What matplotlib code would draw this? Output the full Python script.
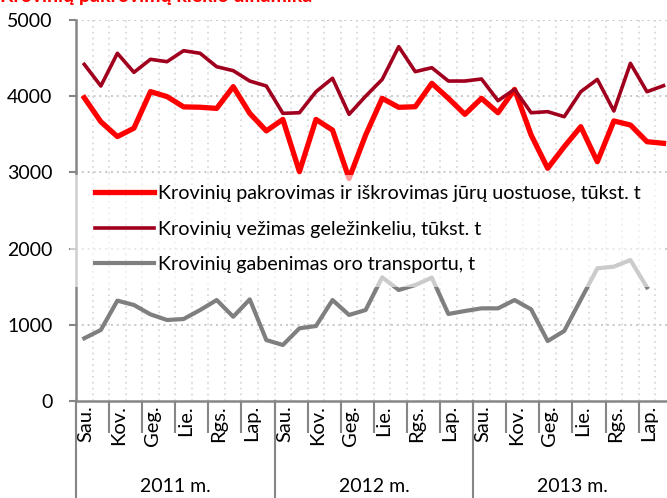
import matplotlib
matplotlib.use("Agg")
import matplotlib.pyplot as plt
import matplotlib.transforms as mtransforms
from matplotlib.patches import Rectangle
import numpy as np

plt.rcParams['font.family'] = ['Lato', 'DejaVu Sans']

months = ["Sau.", "Vas.", "Kov.", "Bal.", "Geg.", "Bir.", "Lie.", "Rgp.", "Rgs.", "Spa.", "Lap.", "Grd."] * 3
years = ["2011 m.", "2012 m.", "2013 m."]

ports = [3980, 3665, 3470, 3580, 4060, 3995, 3860, 3855, 3840, 4125, 3775, 3545,
         3695, 3010, 3695, 3555, 2920, 3490, 3972, 3854, 3862, 4169, 3972, 3762,
         3972, 3783, 4089, 3491, 3054, 3337, 3600, 3140, 3675, 3622, 3403, 3382]
rail = [4418, 4134, 4563, 4313, 4484, 4453, 4597, 4563, 4387, 4335, 4199, 4134,
        3775, 3783, 4059, 4235, 3762, 4000, 4220, 4650, 4322, 4374, 4199, 4199,
        4226, 3941, 4090, 3783, 3797, 3731, 4059, 4220, 3806, 4431, 4059, 4138]
air = [823, 932, 1317, 1260, 1137, 1063, 1076, 1194, 1325, 1106, 1334, 800,
       735, 954, 984, 1325, 1129, 1194, 1623, 1457, 1522, 1619, 1142, 1181,
       1216, 1216, 1325, 1203, 787, 919, 1330, 1741, 1763, 1850, 1492]

labels = ["Krovinių pakrovimas ir iškrovimas jūrų uostuose, tūkst. t",
          "Krovinių vežimas geležinkeliu, tūkst. t",
          "Krovinių gabenimas oro transportu, t"]
title = "Krovinių pakrovimų kiekio dinamika"

W, H = 667, 498
fig = plt.figure(figsize=(W / 100, H / 100), dpi=100)
ax = fig.add_axes([76 / W, 97 / H, 595.8 / W, 381 / H])

x = np.arange(len(ports))
l1, = ax.plot(x, ports, color='#ff0000', lw=3.8, zorder=3)
l2, = ax.plot(x, rail, color='#a0001e', lw=2.6, zorder=3)
l3, = ax.plot(np.arange(len(air)), air, color='#7f7f7f', lw=3.0, zorder=3)

ax.set_xlim(-0.5, len(months) - 0.5)
ax.set_ylim(0, 5000)
ax.set_yticks(np.arange(0, 5001, 1000))

# grid
for yv in range(1000, 5001, 1000):
    ax.axhline(yv, color='#c8c8c8', lw=1.4, ls=(0, (1, 2)), zorder=1)
for b in np.arange(0.5, len(months) - 0.5, 1):
    ax.axvline(b, color='#d4d4d4', lw=1.2, ls=(0, (1, 2.5)), zorder=1)

for s in ['top', 'right']:
    ax.spines[s].set_visible(False)
for s in ['left', 'bottom']:
    ax.spines[s].set_color('#868686')
    ax.spines[s].set_linewidth(1.8)

ax.tick_params(axis='y', direction='out', length=5, width=1.5, color='#868686',
               labelsize=14, pad=12)

# x axis: major ticks at 2-month boundaries, labels at month centers
ax.set_xticks(np.arange(-0.5, len(months) - 0.5, 2))
ax.set_xticklabels([])
ax.tick_params(axis='x', which='major', direction='out', length=23, width=1.5, color='#868686')
ax.set_xticks(np.arange(0, len(months), 2) + 0.1, minor=True)
ax.set_xticklabels(months[::2], minor=True, rotation=90, fontsize=14.5)
ax.tick_params(axis='x', which='minor', length=0, pad=3)
for t in ax.get_xticklabels(minor=True):
    t.set_verticalalignment('top')

# year separators and labels
trans = mtransforms.blended_transform_factory(ax.transData, ax.transAxes)
for k in range(len(years) + 1):
    xb = k * 12 - 0.5
    ax.plot([xb, xb], [0, -0.26], transform=trans, color='#868686', lw=1.5, clip_on=False)
for k, yl in enumerate(years):
    ax.text(k * 12 + 5.5, -0.225, yl, transform=trans, ha='center', va='center', fontsize=14)

# semi-transparent legend background
ax.add_patch(Rectangle((70 / W, (H - 287) / H), 595 / W, 112 / H, transform=fig.transFigure,
                       facecolor='white', alpha=0.6, edgecolor='none', zorder=4, clip_on=False))
leg = ax.legend([l1, l2, l3], labels, loc='center left', bbox_to_anchor=(95 / W, (H - 229) / H),
                bbox_transform=fig.transFigure, frameon=False, fontsize=14.2, borderpad=0,
                handlelength=3.0, handletextpad=0.2, labelspacing=0.92, borderaxespad=0)
leg.set_zorder(5)

fig.text(0 / W, (H + 12) / H, title, color='#ff0000', fontsize=14, fontweight='bold',
         ha='left', va='top')

fig.savefig("out.png", dpi=100)
